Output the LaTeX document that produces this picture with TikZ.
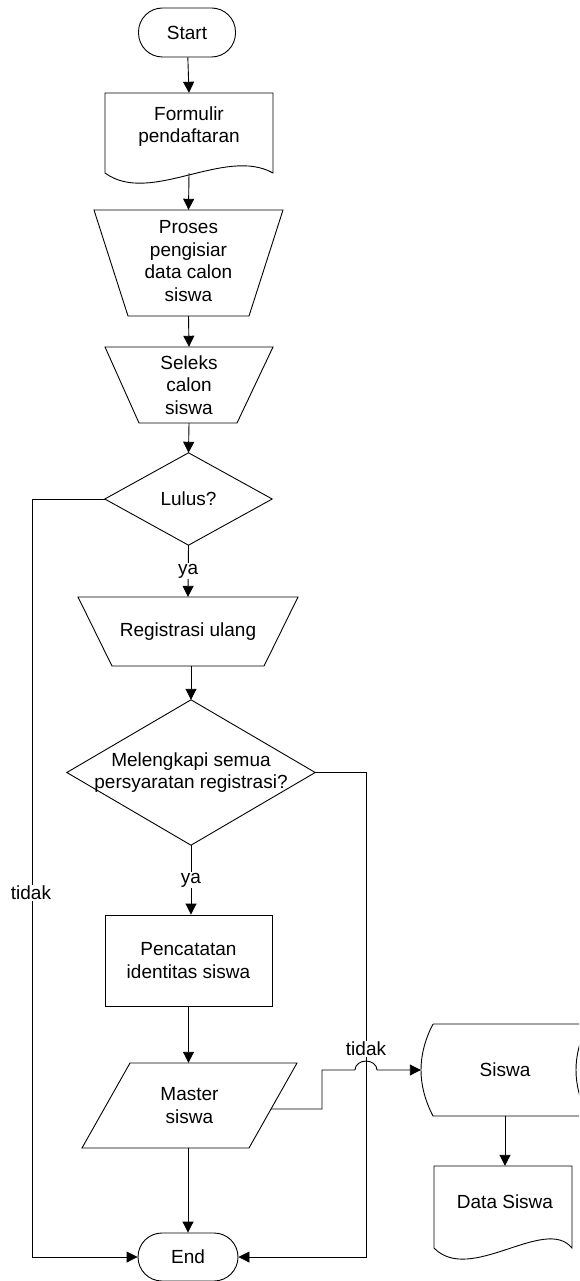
\documentclass[tikz,border=0pt]{standalone}
\usepackage{fontspec}
\setmainfont{Liberation Sans}
\usetikzlibrary{arrows.meta,calc}

\begin{document}
\begin{tikzpicture}[x=1pt,y=-1pt,
  every node/.style={font=\fontsize{19pt}{22.5pt}\selectfont, align=center},
  outline/.style={draw=black, line width=0.9pt},
  box/.style={inner sep=0pt, minimum width=#1},
  term/.style={outline, rounded corners=24pt, inner sep=0pt},
  flow/.style={draw=black, line width=0.9pt, -{Triangle[length=11pt,width=11pt]}},
  tag/.style={fill=white, inner sep=1pt}
]
\clip (0,0) rectangle (579,1281);

% Start
\node[term, minimum width=97pt, minimum height=49pt] (start) at (187,32.5) {Start};

% Formulir pendaftaran (document)
\draw[outline] (105,93) -- (273,93) -- (273,173)
  .. controls (225,146) and (150,206) .. (105,173) -- cycle;
\node[box=168pt, minimum height=80pt,
  label={[yshift=6.5pt]center:Formulir\\pendaftaran}] (form) at (189,133) {};

% Proses pengisian (manual operation)
\draw[outline] (94,210) -- (283,210) -- (249,316) -- (128,316) -- cycle;
\node[box=189pt, minimum height=106pt] (proses) at (188.5,263)
  {\raisebox{-3pt}{\begin{tabular}{@{}c@{}}Proses\\pengisiar\\data calon\\siswa\end{tabular}}};

% Seleksi calon siswa
\draw[outline] (105,347) -- (273,347) -- (237,423) -- (139,423) -- cycle;
\node[box=168pt, minimum height=76pt] (seleks) at (189,385) {Seleks\\calon\\siswa};

% Lulus? decision
\node[box=167pt, minimum height=92pt] (lulus) at (188.5,499) {Lulus?};
\draw[outline] (lulus.north) -- (lulus.east) -- (lulus.south) -- (lulus.west) -- cycle;

% Registrasi ulang
\draw[outline] (78,597) -- (298,597) -- (264,666) -- (112,666) -- cycle;
\node[box=220pt, minimum height=69pt] (regis) at (188,631.5) {Registrasi ulang};

% Melengkapi semua persyaratan registrasi? decision
\node[box=248pt, minimum height=145pt] (cek) at (191,772.5)
  {Melengkapi semua\\persyaratan registrasi?};
\draw[outline] (cek.north) -- (cek.east) -- (cek.south) -- (cek.west) -- cycle;

% Pencatatan identitas siswa
\node[outline, box=167pt, minimum height=91pt] (catat) at (188.5,960.5)
  {Pencatatan\\identitas siswa};

% Master siswa (data)
\draw[outline] (130,1063) -- (297,1063) -- (249,1148) -- (82,1148) -- cycle;
\node[box=215pt, minimum height=85pt] (master) at (189.5,1105.5) {Master\\siswa};
\coordinate (masterR) at (271,1109);

% Siswa (stored data)
\draw[outline] (433,1024) -- (588,1024)
  .. controls (572,1055) and (572,1085) .. (588,1116)
  -- (433,1116) .. controls (417,1085) and (417,1055) .. (433,1024);
\node[box=168pt, minimum height=92pt] (siswa) at (505,1070) {Siswa};

% Data Siswa (document)
\draw[outline] (434,1166) -- (572,1166) -- (572,1248)
  .. controls (545,1215) and (470,1285) .. (434,1248) -- cycle;
\node[box=138pt, minimum height=82pt,
  label={[xshift=2pt,yshift=5pt]center:Data Siswa}] (data) at (503,1207) {};

% End
\node[term, minimum width=100pt, minimum height=48pt] (end) at (188,1257) {End};

% Main flow
\draw[flow] (start) -- (form.north);
\draw[flow] (form.south) -- (proses.north);
\draw[flow] (proses.south) -- (seleks.north);
\draw[flow] (seleks.south) -- (lulus.north);
\draw[flow] (lulus.south) -- node[tag] (ya1) {ya} (regis.north);
\draw[flow] (cek.north |- regis.south) -- (cek.north);
\draw[flow] (cek.south) -- node[tag] (ya2) {ya} (cek.south |- catat.north);
\draw[flow] (catat.south) -- (catat.south |- master.north);
\draw[flow] (end.north |- master.south) -- (end.north);

% Rejection branches into End
\draw[flow] (lulus.west) -- ++(-72,0) |- (end.west);
\node[tag] (tidak1) at (31,893) {tidak};
\draw[flow] (cek.east) -- ++(51,0) |- (end.east);
\node[tag] (tidak2) at (366,1049) {tidak};

% Master siswa to Siswa, hopping over the branch line
\draw[flow] (masterR) -- (322,1109) -- (322,1070) -- (355,1070)
  arc[start angle=180, end angle=0, x radius=11pt, y radius=9pt]
  -- (siswa.west);
\draw[flow] (siswa.south) -- (siswa.south |- data.north);
\end{tikzpicture}
\end{document}
